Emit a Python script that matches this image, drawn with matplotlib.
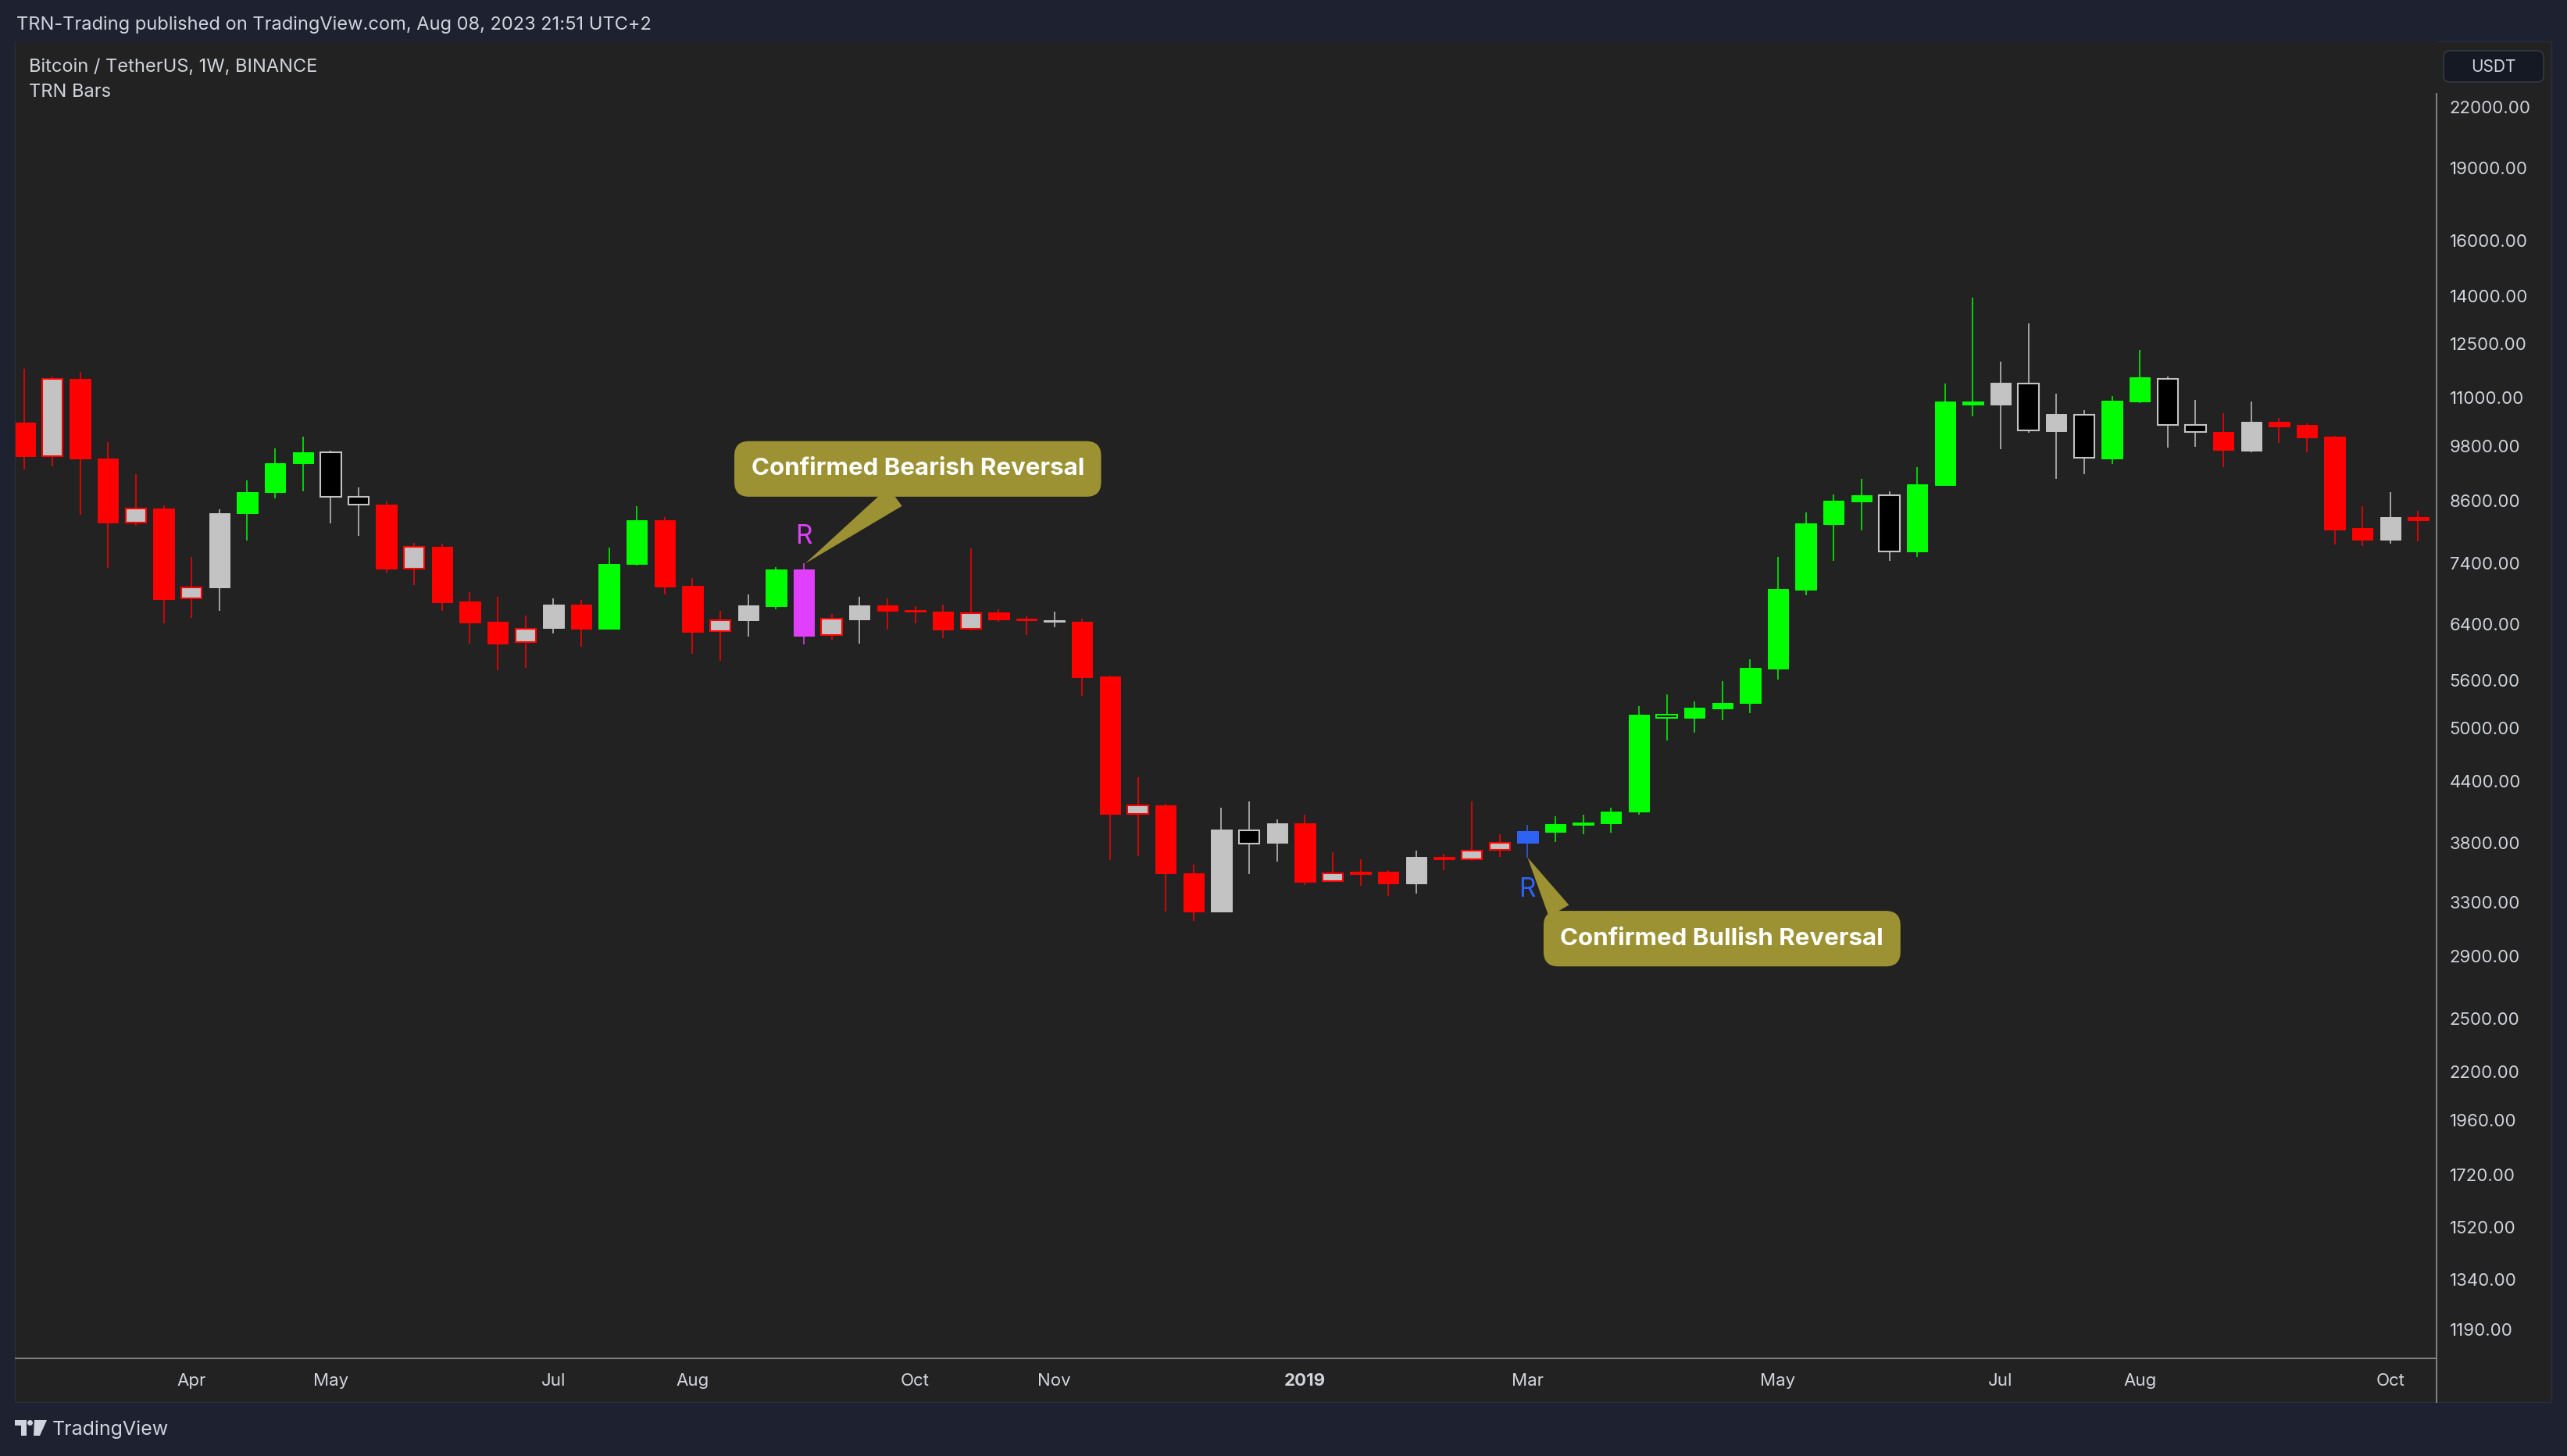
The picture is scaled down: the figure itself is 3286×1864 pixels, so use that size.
import numpy as np
import pandas as pd
import matplotlib
matplotlib.use("Agg")
import matplotlib.pyplot as plt
from matplotlib.transforms import Affine2D
from matplotlib.patches import Rectangle, FancyBboxPatch, Polygon, Circle
from matplotlib.lines import Line2D
from matplotlib.ticker import NullFormatter, NullLocator

# BTCUSDT semanal (BINANCE), primeira vela = semana de 2018-02-19
firstWeek = "2018-02-19"

opens = [10357, 9565, 11499, 9512, 8165, 8443, 6805, 6994, 8338, 8769,
         9395, 9644, 8673, 8511, 7313, 7700, 6762, 6440, 6131, 6348,
         6706, 6335, 7387, 8200, 7010, 6294, 6458, 6688, 7296, 6234,
         6481, 6697, 6620, 6603, 6330, 6590, 6489, 6440, 6440, 5653,
         4073, 4153, 3535, 3223, 3917, 3799, 3981, 3470, 3544, 3549,
         3451, 3672, 3656, 3734, 3799, 3901, 3970, 3982, 4094, 5158,
         5117, 5237, 5304, 5763, 6951, 8136, 8584, 8705, 7610, 8929,
         10891, 10816, 11374, 10152, 10556, 9509, 10891, 11500, 10291, 10122,
         9690, 10376, 10299, 10021, 8047, 7837, 8271]
highs = [11774, 11557, 11700, 9886, 9153, 8497, 7512, 8417, 9023, 9734,
         10015, 9680, 8873, 8575, 7772, 7758, 6911, 6834, 6531, 6806,
         6790, 7682, 8481, 8261, 7148, 6610, 6873, 7331, 7401, 6566,
         6831, 6810, 6684, 6710, 7667, 6633, 6520, 6602, 6486, 5660,
         4444, 4169, 3606, 4133, 4195, 4016, 4066, 3716, 3654, 3557,
         3729, 3699, 4195, 3878, 3966, 4048, 4064, 4133, 5265, 5414,
         5324, 5588, 5889, 7512, 8359, 8721, 9052, 8786, 9307, 11369,
         13953, 11971, 13125, 11097, 10671, 11029, 12310, 11557, 10926, 10586,
         10891, 10474, 10344, 10034, 8481, 8774, 8386]
lows = [9267, 9337, 8317, 7318, 8094, 6420, 6501, 6606, 7822, 8650,
        8795, 8149, 7910, 7237, 7029, 6613, 6115, 5741, 5770, 6266,
        6070, 6330, 7363, 6878, 5970, 5870, 6213, 6633, 6100, 6164,
        6111, 6323, 6420, 6194, 6308, 6445, 6242, 6353, 5398, 3649,
        3684, 3223, 3155, 3220, 3528, 3632, 3437, 3459, 3429, 3350,
        3367, 3559, 3640, 3676, 3670, 3809, 3875, 3892, 4066, 4855,
        4946, 5095, 5182, 5610, 6862, 7451, 8005, 7441, 7512, 8900,
        10519, 9722, 10110, 9063, 9163, 9383, 10850, 9753, 9770, 9320,
        9650, 9873, 9650, 7750, 7712, 7760, 7799]
closes = [9565, 11499, 9512, 8159, 8443, 6801, 6994, 8338, 8769, 9395,
          9644, 8673, 8511, 7313, 7700, 6751, 6432, 6115, 6333, 6706,
          6335, 7387, 8200, 7003, 6288, 6461, 6697, 7296, 6225, 6493,
          6697, 6613, 6603, 6323, 6575, 6474, 6461, 6469, 5645, 4073,
          4153, 3535, 3223, 3923, 3793, 3981, 3463, 3531, 3528, 3451,
          3674, 3656, 3731, 3799, 3908, 3973, 3985, 4094, 5158, 5117,
          5245, 5304, 5770, 6965, 8145, 8597, 8705, 7610, 8940, 10891,
          10816, 11390, 10159, 10572, 9524, 10906, 11535, 10299, 10122, 9704,
          10376, 10261, 10002, 8023, 7837, 8271, 8209]

# cor de cada barra do indicador TRN Bars
barStyles = ["red", "grayred", "red", "red", "grayred", "red", "grayred", "gray", "green", "green",
             "green", "black", "black", "red", "grayred", "red", "red", "red", "grayred", "gray",
             "red", "green", "green", "red", "red", "grayred", "gray", "green", "bearrev", "grayred",
             "gray", "red", "red", "red", "grayred", "red", "red", "gray", "red", "red",
             "grayred", "red", "red", "gray", "black", "gray", "red", "grayred", "red", "red",
             "gray", "red", "grayred", "grayred", "bullrev", "green", "green", "green", "green", "blackgreen",
             "green", "green", "green", "green", "green", "green", "green", "black", "green", "green",
             "green", "gray", "black", "gray", "black", "green", "green", "black", "black", "red",
             "gray", "red", "red", "red", "red", "gray", "red"]

priceTicks = [22000, 19000, 16000, 14000, 12500, 11000, 9800, 8600, 7400, 6400, 5600, 5000,
              4400, 3800, 3300, 2900, 2500, 2200, 1960, 1720, 1520, 1340, 1190]
timeTickDates = ["2018-04-02", "2018-05-07", "2018-07-02", "2018-08-06", "2018-10-01", "2018-11-05",
                 "2019-01-07", "2019-03-04", "2019-05-06", "2019-07-01", "2019-08-05", "2019-10-07"]
timeTickLabels = ["Apr", "May", "Jul", "Aug", "Oct", "Nov", "2019", "Mar", "May", "Jul", "Aug", "Oct"]

# cores
FRAME = "#1e2130"
PANE = "#222222"
TXT = "#d1d4dc"
AXLINE = "#7f7f7f"
RED = "#ff0000"
GREEN = "#00ff00"
GRAY = "#c3c3c3"
MAGENTA = "#e040fb"
BLUE = "#2d62f5"
OLIVE = "#9c9133"

# estilo -> (preenchimento, borda, pavio, largura da borda)
STYLES = {
    "red": (RED, RED, RED, 0.7),
    "green": (GREEN, GREEN, GREEN, 0.7),
    "gray": (GRAY, GRAY, GRAY, 0.7),
    "grayred": (GRAY, RED, RED, 1.5),
    "black": ("#000000", GRAY, GRAY, 1.5),
    "blackgreen": ("#000000", GREEN, GREEN, 1.5),
    "bearrev": (MAGENTA, MAGENTA, MAGENTA, 0.7),
    "bullrev": (BLUE, BLUE, BLUE, 0.7),
}

plt.rcParams["font.family"] = ["Inter", "DejaVu Sans"]

W, H = 3286, 1864
fig = plt.figure(figsize=(W / 100, H / 100), dpi=100, facecolor=FRAME)
# transformação em pixels (origem no canto superior esquerdo)
px = Affine2D().scale(1 / W, -1 / H).translate(0, 1) + fig.transFigure

# fundo do painel (atrás dos eixos)
fig.patches.append(Rectangle((19, 53), 3247, 1742, transform=px, zorder=-10,
                             facecolor=PANE, edgecolor="#2a2e39", lw=1))

ax = fig.add_axes([20 / W, 1 - 1739 / H, (3119 - 20) / W, (1739 - 53) / H])
ax.set_facecolor(PANE)

n = len(opens)
weeks = pd.date_range(firstWeek, periods=n, freq="7D")
xs = np.arange(n)

for i in xs:
    face, edge, wick, lw = STYLES[barStyles[i]]
    ax.vlines(i, lows[i], highs[i], color=wick, lw=1.1, zorder=2)
    lo, hi = min(opens[i], closes[i]), max(opens[i], closes[i])
    ax.bar(i, hi - lo, bottom=lo, width=0.74, color=face, edgecolor=edge,
           linewidth=lw, zorder=3)

ax.set_yscale("log")
ax.set_xlim(-0.32, 86.66)
ax.set_ylim(1110.5, 25721)

ax.yaxis.tick_right()
ax.set_yticks(priceTicks)
ax.set_yticklabels([f"{t:.2f}" for t in priceTicks])
ax.yaxis.set_minor_locator(NullLocator())
ax.yaxis.set_minor_formatter(NullFormatter())
ax.tick_params(axis="y", length=0, pad=12, labelsize=16, labelcolor=TXT)

tickPos = weeks.get_indexer(pd.to_datetime(timeTickDates))
ax.set_xticks(tickPos)
ax.set_xticklabels(timeTickLabels)
ax.tick_params(axis="x", length=0, pad=14, labelsize=16, labelcolor=TXT)
for lab in ax.get_xticklabels():
    if lab.get_text() == "2019":
        lab.set_fontweight("bold")

for s in ["top", "left", "right"]:
    ax.spines[s].set_visible(False)
ax.spines["bottom"].set_color(AXLINE)
ax.spines["bottom"].set_linewidth(1.44)
fig.add_artist(Line2D([3119, 3119], [120, 1795], transform=px, color=AXLINE, lw=1.44))

# marcadores de reversão
iBear = barStyles.index("bearrev")
iBull = barStyles.index("bullrev")
ax.annotate("R", xy=(iBear, highs[iBear]), xytext=(0, 34), textcoords="offset pixels",
            ha="center", va="center", color=MAGENTA, fontsize=24, zorder=5)
ax.annotate("R", xy=(iBull, lows[iBull]), xytext=(0, -41), textcoords="offset pixels",
            ha="center", va="center", color=BLUE, fontsize=24, zorder=5)

bubble = dict(boxstyle="round,pad=0.69,rounding_size=0.6", fc=OLIVE, ec="none")
ax.annotate("Confirmed Bearish Reversal", xy=(iBear + 0.05, highs[iBear]), xytext=(144, 121),
            textcoords="offset pixels", ha="center", va="center", fontsize=22.5,
            fontweight="bold", color="white", bbox=bubble, zorder=6,
            arrowprops=dict(arrowstyle="wedge,tail_width=0.95,shrink_factor=0.5", fc=OLIVE,
                            ec="none", relpos=(0.5, 0.0), shrinkA=0, shrinkB=0))
ax.annotate("Confirmed Bullish Reversal", xy=(iBull, lows[iBull]), xytext=(249, -104),
            textcoords="offset pixels", ha="center", va="center", fontsize=22.5,
            fontweight="bold", color="white", bbox=bubble, zorder=6,
            arrowprops=dict(arrowstyle="wedge,tail_width=0.95,shrink_factor=0.5", fc=OLIVE,
                            ec="none", relpos=(0.03, 0.9), shrinkA=0, shrinkB=0))

# textos do cabeçalho
fig.text(21, 32, "TRN-Trading published on TradingView.com, Aug 08, 2023 21:51 UTC+2",
         transform=px, color=TXT, fontsize=17, va="center", ha="left")
fig.text(37, 86, "Bitcoin / TetherUS, 1W, BINANCE", transform=px, color=TXT,
         fontsize=17, va="center", ha="left")
fig.text(37, 118, "TRN Bars", transform=px, color=TXT, fontsize=17, va="center", ha="left")

# caixa da moeda
fig.patches.append(FancyBboxPatch((3128, 65), 128, 40, boxstyle="round,pad=0,rounding_size=8",
                                  transform=px, facecolor="#151924", edgecolor="#3a3e4a", lw=1))
fig.text(3192, 86, "USDT", transform=px, color=TXT, fontsize=15, va="center", ha="center")

# logo TradingView
fig.patches.append(Polygon([(19, 1818), (34, 1818), (34, 1838), (27, 1838), (27, 1825), (19, 1825)],
                           closed=True, transform=px, facecolor=TXT, edgecolor="none"))
fig.patches.append(Circle((38.5, 1821.5), 3.5, transform=px, facecolor=TXT, edgecolor="none"))
fig.patches.append(Polygon([(44, 1818), (60, 1818), (51, 1838), (43, 1838)],
                           closed=True, transform=px, facecolor=TXT, edgecolor="none"))
fig.text(67, 1830, "TradingView", transform=px, color=TXT, fontsize=18, va="center", ha="left")

fig.savefig("out.png", dpi=100, facecolor=FRAME)
